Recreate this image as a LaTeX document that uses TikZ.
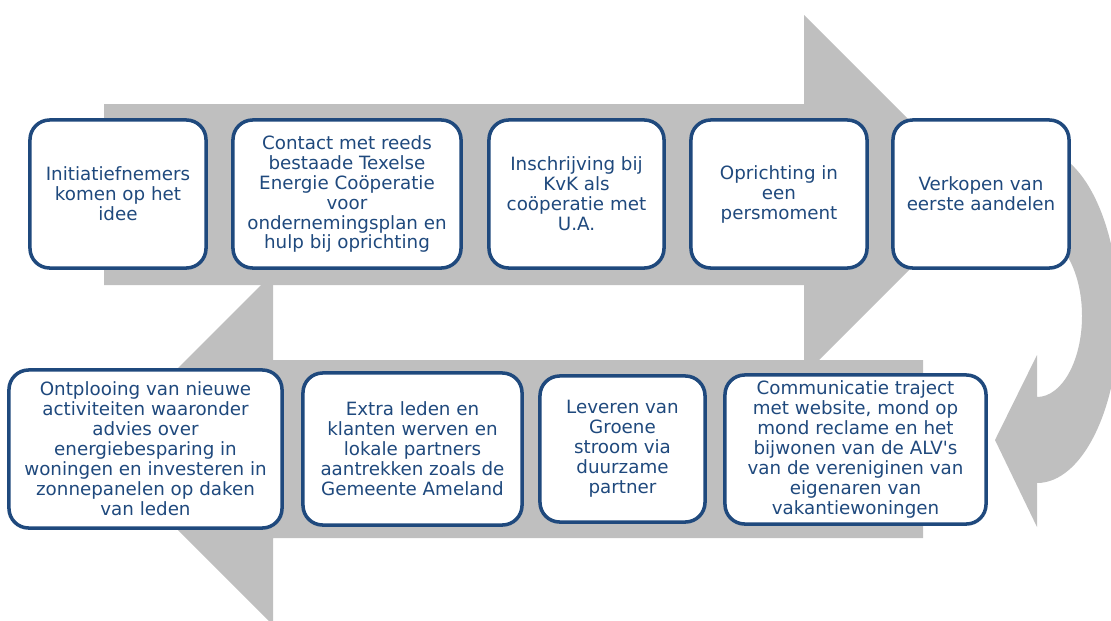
\documentclass[tikz,border=0pt]{standalone}
\usepackage{fontspec}
\setmainfont{DejaVu Sans}
\definecolor{arrowgray}{RGB}{191,191,191}
\definecolor{stepblue}{RGB}{31,73,125}

\begin{document}
\begin{tikzpicture}[x=0.025cm, y=-0.025cm,
    stepbox/.style={draw=stepblue, line width=2.5pt, rounded corners=14pt, fill=white,
      text=stepblue, align=center, inner sep=0pt, font=\fontsize{13}{14.2}\selectfont}]
  \useasboundingbox (0,0) rectangle (1111,620);
  \clip (0,0) rectangle (1111,620);
  \fill[arrowgray] (104,104) -- (804,104) -- (804,15) -- (984,195) -- (804,375) -- (804,285) -- (104,285) -- cycle;
  \fill[arrowgray] (923,360) -- (273,360) -- (273,273) -- (97,449) -- (273,625) -- (273,538) -- (923,538) -- cycle;
  \fill[arrowgray] (1037,149) arc[start angle=-90, end angle=90, x radius=82, y radius=167]
    -- (1037,527) -- (995,440) -- (1037,355) -- (1037,397)
    arc[start angle=90, end angle=-90, x radius=45, y radius=81] -- cycle;

  \node[stepbox, minimum width=4.4cm, minimum height=3.7cm] (idee) at (118,194) {Initiatiefnemers\\komen op het\\idee};
  \node[stepbox, minimum width=5.7cm, minimum height=3.7cm] (contact) at (347,194) {Contact met reeds\\bestaade Texelse\\Energie Coöperatie\\voor\\ondernemingsplan en\\hulp bij oprichting};
  \node[stepbox, minimum width=4.375cm, minimum height=3.7cm] (kvk) at (576.5,194) {Inschrijving bij\\KvK als\\coöperatie met\\U.A.};
  \node[stepbox, minimum width=4.4cm, minimum height=3.7cm] (pers) at (779,194) {Oprichting in\\een\\persmoment};
  \node[stepbox, minimum width=4.4cm, minimum height=3.7cm] (aandelen) at (981,194) {Verkopen van\\eerste aandelen};

  \node[stepbox, minimum width=6.525cm, minimum height=3.725cm] (communicatie) at (855.5,449.5) {Communicatie traject\\met website, mond op\\mond reclame en het\\bijwonen van de ALV\textquotesingle s\\van de vereniginen van\\eigenaren van\\vakantiewoningen};
  \node[stepbox, minimum width=4.125cm, minimum height=3.65cm] (stroom) at (622.5,449) {Leveren van\\Groene\\stroom via\\duurzame\\partner};
  \node[stepbox, minimum width=5.475cm, minimum height=3.8cm] (leden) at (412.5,449) {Extra leden en\\klanten werven en\\lokale partners\\aantrekken zoals de\\Gemeente Ameland};
  \node[stepbox, minimum width=6.825cm, minimum height=3.95cm] (ontplooiing) at (145.5,449) {Ontplooing van nieuwe\\activiteiten waaronder\\advies over\\energiebesparing in\\woningen en investeren in\\zonnepanelen op daken\\van leden};
\end{tikzpicture}
\end{document}
